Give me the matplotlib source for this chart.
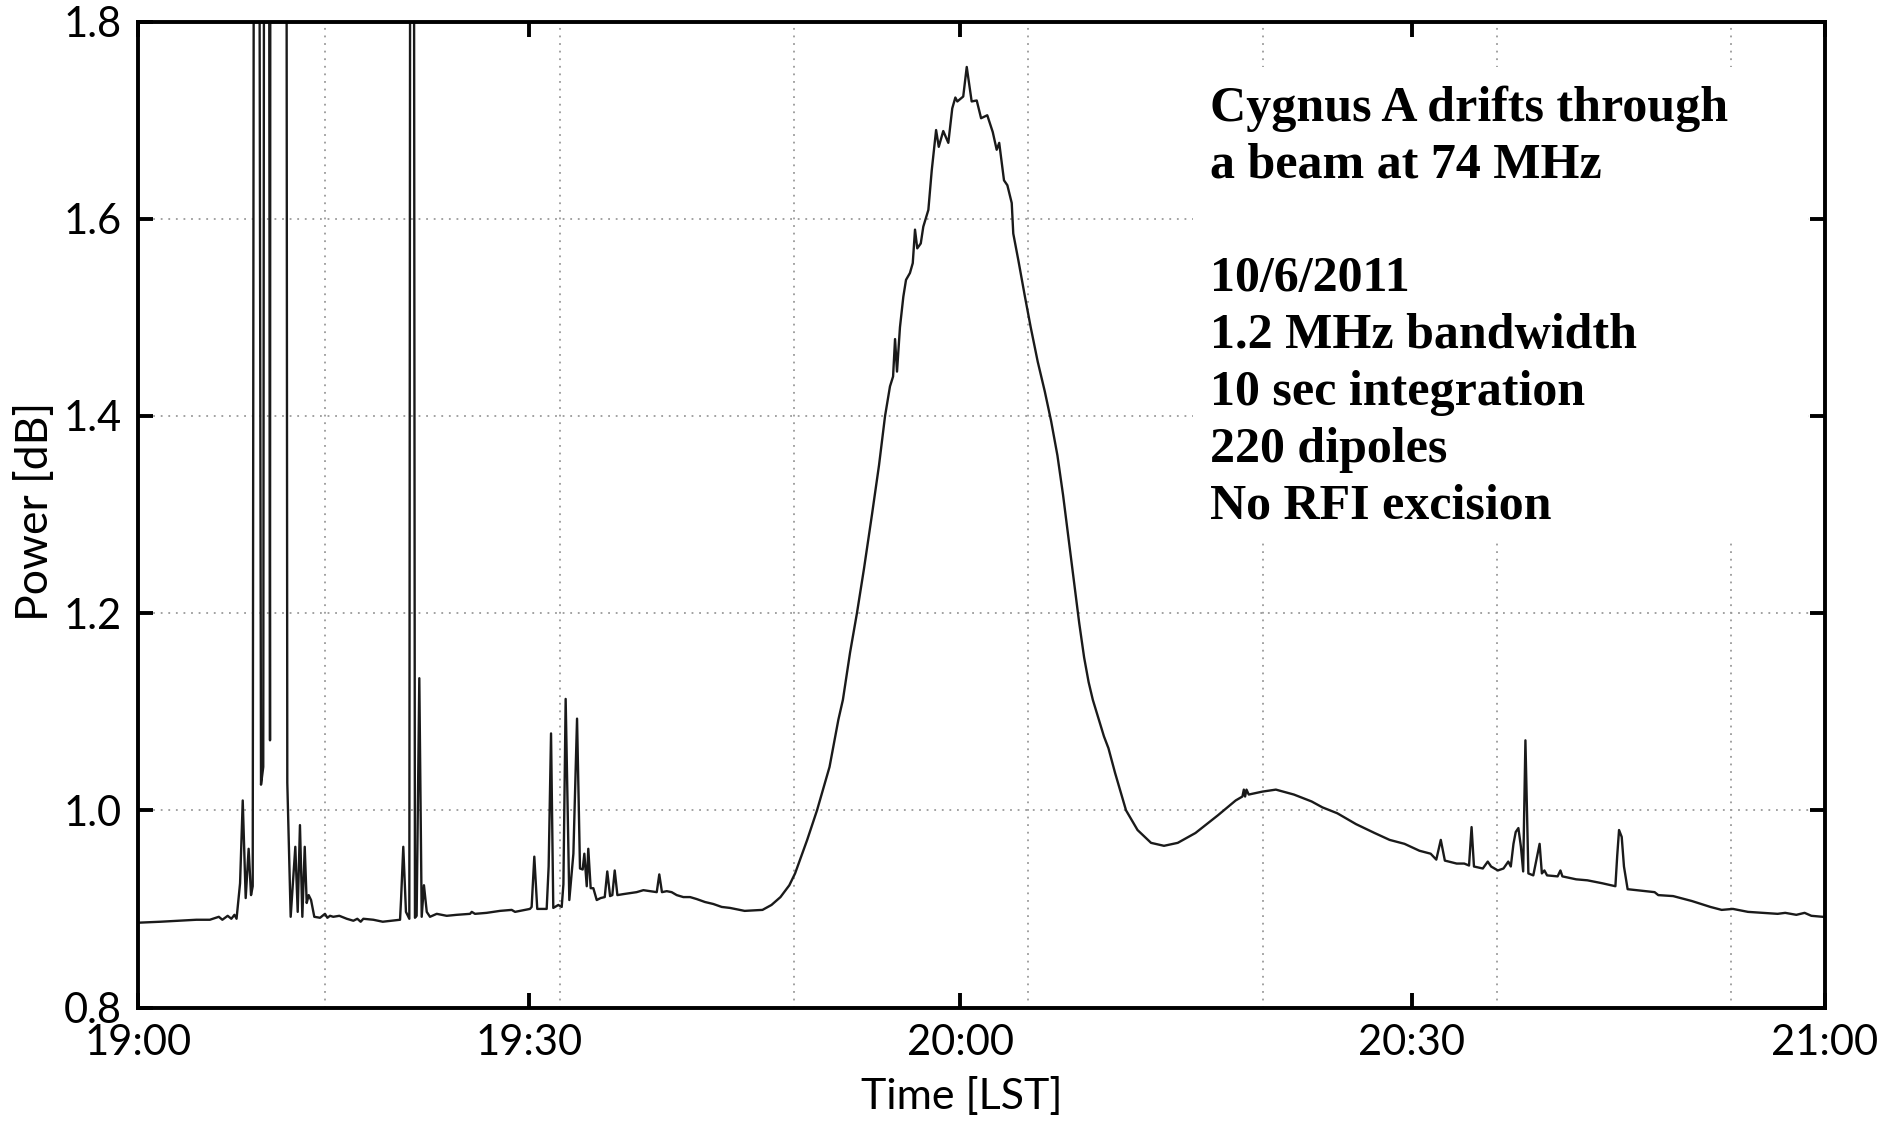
import matplotlib
matplotlib.use("Agg")
import matplotlib.pyplot as plt
from matplotlib.patches import Rectangle
from matplotlib.ticker import FixedLocator

# Drift scan: minutes after 19:00 LST and measured power (off-scale RFI hits stored as 3.0)
time_min = [
    0.00, 1.61, 2.89, 4.15, 5.11, 5.75, 6.00, 6.38, 6.64, 6.86, 7.01, 7.26, 7.45, 7.66,
    7.87, 8.04, 8.16, 8.32, 8.50, 8.75, 8.91, 9.03, 9.25, 9.39, 9.44, 10.50, 10.62, 10.86,
    11.19, 11.36, 11.52, 11.69, 11.86, 12.00, 12.14, 12.31, 12.54, 12.95, 13.30, 13.47,
    13.66, 13.89, 14.32, 14.85, 15.32, 15.60, 15.84, 16.03, 16.74, 17.41, 18.05, 18.64,
    18.71, 18.87, 19.06, 19.30, 19.42, 19.56, 19.70, 19.82, 20.01, 20.18, 20.34, 20.54,
    20.77, 21.25, 21.96, 22.67, 23.62, 23.74, 23.97, 24.80, 25.75, 26.58, 26.82, 27.88,
    28.00, 28.19, 28.40, 29.07, 29.21, 29.38, 29.54, 29.90, 30.14, 30.26, 30.42, 30.68,
    30.97, 31.23, 31.44, 31.63, 31.75, 31.92, 32.03, 32.20, 32.39, 32.63, 32.91, 33.20,
    33.38, 33.58, 33.74, 33.91, 34.10, 34.52, 35.00, 35.47, 35.95, 36.42, 36.90, 37.08,
    37.27, 37.61, 37.96, 38.32, 38.79, 39.27, 39.74, 40.33, 40.92, 41.52, 42.11, 43.15,
    44.42, 45.06, 45.70, 46.33, 46.74, 47.60, 48.30, 49.19, 49.82, 50.14, 50.65, 51.14,
    51.64, 52.21, 52.71, 53.14, 53.49, 53.71, 53.85, 53.99, 54.20, 54.44, 54.63, 54.91,
    55.11, 55.27, 55.43, 55.68, 55.86, 56.22, 56.46, 56.77, 56.96, 57.28, 57.64, 57.92,
    58.14, 58.28, 58.70, 58.95, 59.30, 59.66, 59.97, 60.41, 60.80, 61.08, 61.26, 61.60,
    61.84, 62.15, 62.26, 62.62, 63.09, 63.50, 64.00, 64.50, 64.95, 65.40, 65.80, 66.20,
    66.60, 66.95, 67.30, 67.62, 67.92, 68.71, 69.03, 69.50, 70.28, 71.10, 72.06, 72.98, 73.96,
    75.22, 76.82, 78.08, 78.56, 78.66, 78.75, 78.85, 79.01, 79.99, 80.94, 82.22, 83.48,
    84.25, 85.31, 86.64, 87.96, 89.03, 90.09, 91.15, 91.95, 92.35, 92.67, 92.96, 93.80,
    94.34, 94.68, 94.86, 95.03, 95.66, 96.01, 96.25, 96.73, 97.13, 97.47, 97.65, 97.84,
    98.00, 98.19, 98.37, 98.53, 98.69, 98.90, 99.25, 99.70, 99.86, 100.04, 100.23, 100.98,
    101.18, 101.32, 102.30, 103.10, 104.16, 105.09, 105.22, 105.35, 105.54, 105.70, 105.96,
    107.88, 108.14, 109.20, 110.53, 111.85, 112.65, 113.45, 114.52, 115.58, 116.63, 117.17,
    117.96, 118.55, 119.03, 119.83, 120.00,
]
power_db = [
    0.886, 0.887, 0.888, 0.889, 0.889, 0.892, 0.889, 0.893, 0.890, 0.894, 0.890, 0.926, 1.010, 0.911,
    0.961, 0.914, 0.923, 3.0, 3.0, 1.026, 1.044, 3.0, 3.0, 1.071, 3.0, 3.0, 1.028, 0.892,
    0.963, 0.897, 0.985, 0.892, 0.963, 0.906, 0.914, 0.909, 0.892, 0.891, 0.895, 0.891,
    0.893, 0.892, 0.893, 0.890, 0.888, 0.890, 0.887, 0.890, 0.889, 0.887, 0.888, 0.889,
    0.909, 0.963, 0.897, 0.890, 3.0, 3.0, 0.891, 0.893, 1.134, 0.892, 0.924, 0.897,
    0.892, 0.895, 0.893, 0.894, 0.895, 0.897, 0.895, 0.896, 0.898, 0.899, 0.897, 0.900,
    0.902, 0.953, 0.900, 0.900, 0.943, 1.078, 0.901, 0.904, 0.902, 0.925, 1.113, 0.909,
    0.956, 1.093, 0.941, 0.940, 0.956, 0.923, 0.961, 0.921, 0.921, 0.909, 0.911, 0.912,
    0.938, 0.913, 0.914, 0.939, 0.914, 0.915, 0.916, 0.917, 0.919, 0.918, 0.917, 0.935,
    0.917, 0.918, 0.917, 0.914, 0.912, 0.912, 0.910, 0.907, 0.905, 0.902, 0.901, 0.898,
    0.899, 0.904, 0.912, 0.924, 0.936, 0.970, 1.000, 1.044, 1.092, 1.112, 1.160, 1.200,
    1.245, 1.300, 1.350, 1.400, 1.430, 1.440, 1.478, 1.445, 1.490, 1.521, 1.538, 1.545,
    1.555, 1.589, 1.570, 1.575, 1.592, 1.609, 1.649, 1.690, 1.673, 1.689, 1.677, 1.712,
    1.723, 1.719, 1.724, 1.754, 1.719, 1.720, 1.702, 1.705, 1.688, 1.670, 1.677, 1.639,
    1.634, 1.616, 1.585, 1.558, 1.521, 1.490, 1.455, 1.425, 1.395, 1.360, 1.320, 1.275,
    1.230, 1.190, 1.155, 1.130, 1.112, 1.075, 1.063, 1.038, 1.000, 0.980, 0.967, 0.964, 0.967,
    0.977, 0.995, 1.010, 1.014, 1.021, 1.014, 1.021, 1.016, 1.019, 1.021, 1.016, 1.009,
    1.003, 0.997, 0.986, 0.977, 0.970, 0.966, 0.959, 0.956, 0.950, 0.970, 0.949, 0.946,
    0.946, 0.944, 0.983, 0.943, 0.941, 0.948, 0.943, 0.939, 0.941, 0.948, 0.943, 0.966,
    0.978, 0.982, 0.963, 0.938, 1.071, 0.936, 0.934, 0.966, 0.936, 0.939, 0.934, 0.933,
    0.939, 0.933, 0.930, 0.929, 0.926, 0.923, 0.954, 0.980, 0.973, 0.943, 0.920,
    0.917, 0.914, 0.913, 0.908, 0.902, 0.899, 0.900, 0.897, 0.896, 0.895, 0.896,
    0.894, 0.896, 0.893, 0.892, 0.892,
]

# Hand-placed LST labels along the time axis (minutes after 19:00)
xtick_pos = [0.0, 27.8, 58.5, 90.6, 120.0]
xtick_labels = ["19:00", "19:30", "20:00", "20:30", "21:00"]
ytick_vals = [0.8, 1.0, 1.2, 1.4, 1.6, 1.8]
ytick_labels = ["0.8", "1.0", "1.2", "1.4", "1.6", "1.8"]
# vertical grid every 1000 s of the recording
grid_sec = [800, 1800, 2800, 3800, 4800, 5800, 6800]

notes = [
    "Cygnus A drifts through",
    "a beam at 74 MHz",
    "",
    "10/6/2011",
    "1.2 MHz bandwidth",
    "10 sec integration",
    "220 dipoles",
    "No RFI excision",
]

W, H = 1885, 1125
fig = plt.figure(figsize=(W / 100, H / 100), dpi=100)
ax_l, ax_r, ax_t, ax_b = 138, 1825, 21.6, 1007.5
ax = fig.add_axes([ax_l / W, 1 - ax_b / H, (ax_r - ax_l) / W, (ax_b - ax_t) / H])

sans = "Lato"
ax.plot(time_min, power_db, color="#1a1a1a", lw=1.7, zorder=3, solid_joinstyle="round")

ax.set_xlim(0, 120)
ax.set_ylim(0.8, 1.8)

ax.xaxis.set_major_locator(FixedLocator(xtick_pos))
ax.set_xticklabels(xtick_labels)
ax.xaxis.set_minor_locator(FixedLocator([s / 60 for s in grid_sec]))
ax.set_yticks(ytick_vals)
ax.set_yticklabels(ytick_labels)

ax.tick_params(axis="both", which="major", direction="in", length=10.5, width=2.8,
               top=True, right=True, labelsize=30, color="black")
ax.tick_params(axis="x", which="major", pad=12)
ax.tick_params(axis="y", which="major", pad=12)
ax.tick_params(axis="x", which="minor", length=0, top=False, bottom=False)
for lab in ax.get_xticklabels() + ax.get_yticklabels():
    lab.set_fontfamily(sans)

ax.set_axisbelow(True)
grid_style = dict(color="#9a9a9a", linestyle=(0, (1.0, 3.2)), linewidth=1.3)
ax.grid(True, which="minor", axis="x", **grid_style)
ax.grid(True, which="major", axis="y", **grid_style)

for sp in ax.spines.values():
    sp.set_linewidth(2.8)
    sp.set_zorder(4)

ax.set_xlabel("Time [LST]", fontsize=31, fontfamily=sans, va="center")
ax.xaxis.set_label_coords(0.488, -0.0905)
ax.set_ylabel("Power [dB]", fontsize=32, fontfamily=sans, va="center")
ax.yaxis.set_label_coords(-0.0605, 0.503)

# white panel behind the annotation block
px2x = lambda px: (px - ax_l) / (ax_r - ax_l)
py2y = lambda py: (ax_b - py) / (ax_b - ax_t)
ax.add_patch(Rectangle((px2x(1193), py2y(541)), px2x(1808) - px2x(1193),
                       py2y(67) - py2y(541), transform=ax.transAxes,
                       facecolor="white", edgecolor="none", zorder=1))

y0, dy = 121.0, 56.8
for i, line in enumerate(notes):
    if line:
        fig.text(1210 / W, 1 - (y0 + i * dy) / H, line, fontsize=36,
                 fontfamily="Liberation Serif", fontweight="bold",
                 ha="left", va="baseline")

fig.savefig("out.png", dpi=100)
